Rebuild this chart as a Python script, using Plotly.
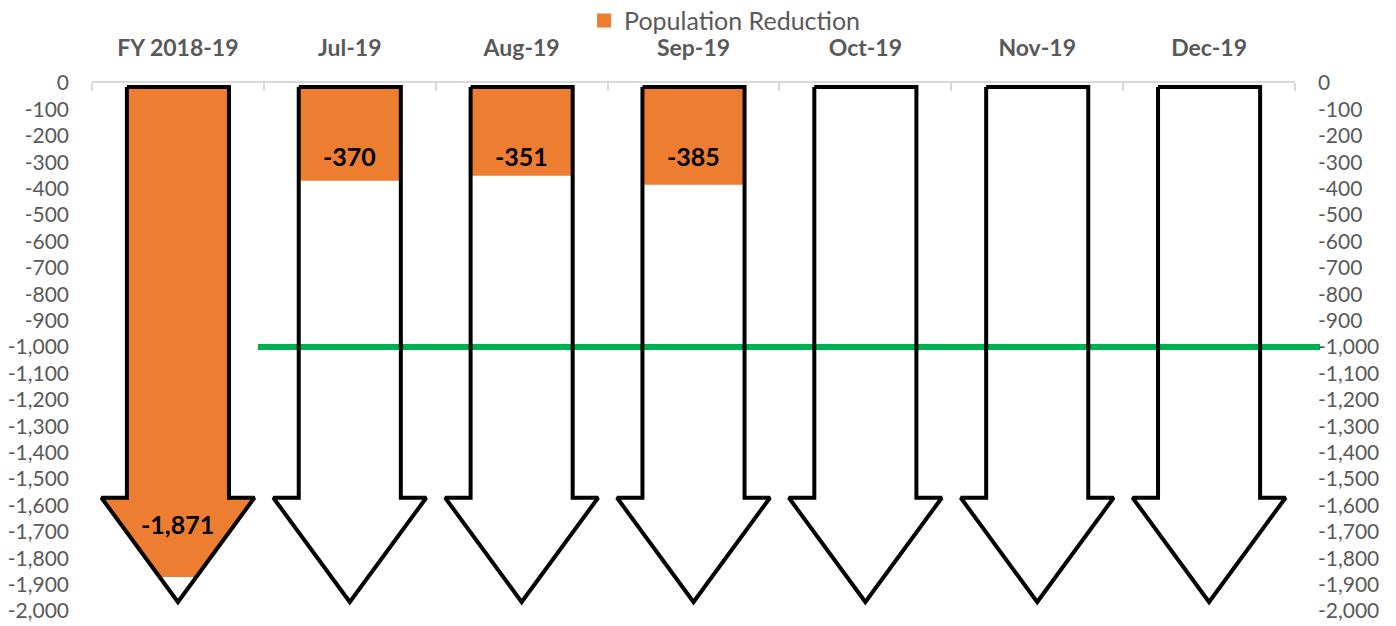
import plotly.graph_objects as go

# ---- data ----
CATEGORIES = ["FY 2018-19", "Jul-19", "Aug-19", "Sep-19", "Oct-19", "Nov-19", "Dec-19"]
REDUCTION = [-1871, -370, -351, -385, None, None, None]
SERIES_NAME = "Population Reduction"
TARGET = -1000
Y_TICKS = list(range(0, -2001, -100))

# ---- styling / geometry ----
ORANGE = "#ed7d31"
GREEN = "#00b050"
GREY = "#595959"
FONT = "Lato"
SHAFT_HALF = 0.297
HEAD_HALF = 0.445
ARROW_TOP = -15
HEAD_TOP = -1571
ARROW_TIP = -1966


def outline(cx):
    xs = [cx - SHAFT_HALF, cx + SHAFT_HALF, cx + SHAFT_HALF, cx + HEAD_HALF, cx,
          cx - HEAD_HALF, cx - SHAFT_HALF, cx - SHAFT_HALF]
    ys = [ARROW_TOP, ARROW_TOP, HEAD_TOP, HEAD_TOP, ARROW_TIP, HEAD_TOP, HEAD_TOP, ARROW_TOP]
    return xs, ys


def filled(cx, v):
    if v >= HEAD_TOP:
        xs = [cx - SHAFT_HALF, cx + SHAFT_HALF, cx + SHAFT_HALF, cx - SHAFT_HALF]
        ys = [ARROW_TOP, ARROW_TOP, v, v]
    else:
        hw = HEAD_HALF * (v - ARROW_TIP) / (HEAD_TOP - ARROW_TIP)
        xs = [cx - SHAFT_HALF, cx + SHAFT_HALF, cx + SHAFT_HALF, cx + HEAD_HALF,
              cx + hw, cx - hw, cx - HEAD_HALF, cx - SHAFT_HALF]
        ys = [ARROW_TOP, ARROW_TOP, HEAD_TOP, HEAD_TOP, v, v, HEAD_TOP, HEAD_TOP]
    return xs, ys


fig = go.Figure()

# orange fills
for i, v in enumerate(REDUCTION):
    if v is None:
        continue
    xs, ys = filled(i, v)
    fig.add_trace(go.Scatter(x=xs, y=ys, fill="toself", fillcolor=ORANGE, mode="lines",
                             line=dict(width=0, color=ORANGE), showlegend=False,
                             hoverinfo="skip"))

# arrow outlines
ox, oy = [], []
for i in range(len(CATEGORIES)):
    xs, ys = outline(i)
    ox += xs + [None]
    oy += ys + [None]
fig.add_trace(go.Scatter(x=ox, y=oy, mode="lines", line=dict(color="black", width=4),
                         showlegend=False, hoverinfo="skip"))

# legend entry
fig.add_trace(go.Scatter(x=[None], y=[None], mode="markers", name=SERIES_NAME,
                         marker=dict(symbol="square", size=14, color=ORANGE),
                         yaxis="y2"))

# data labels: shaft labels share one row, head label sits inside the head
shaft_vals = [v for v in REDUCTION if v is not None and v >= HEAD_TOP]
shaft_label_y = max(shaft_vals) if shaft_vals else 0
for i, v in enumerate(REDUCTION):
    if v is None:
        continue
    if v >= HEAD_TOP:
        ly, shift = shaft_label_y, 20
    else:
        ly, shift = v, 53
    fig.add_annotation(x=i, y=ly, text=f"{v:,}", showarrow=False, yshift=shift,
                       yanchor="middle", font=dict(family=FONT, size=25, color="black",
                                                   weight="bold"))

# target line
fig.add_shape(type="line", xref="paper", yref="y", x0=0.138, x1=1.0208, y0=TARGET, y1=TARGET,
              line=dict(color=GREEN, width=6), layer="below")

yaxis_common = dict(range=[-2000, 0], tickvals=Y_TICKS, ticktext=[f"{t:,}" for t in Y_TICKS],
                    showgrid=False, zeroline=False, showline=False, ticks="",
                    tickfont=dict(family=FONT, size=21, color=GREY), ticklabelstandoff=22,
                    ticklabeloverflow="allow")

fig.update_layout(
    width=1396, height=626,
    margin=dict(l=92, r=101, t=83, b=15, autoexpand=False),
    plot_bgcolor="white", paper_bgcolor="white",
    font=dict(family=FONT, color=GREY),
    xaxis=dict(range=[-0.5, len(CATEGORIES) - 0.5], side="top",
               tickvals=list(range(len(CATEGORIES))), ticktext=CATEGORIES,
               tickfont=dict(family=FONT, size=23, color=GREY, weight="bold"),
               ticks="", showgrid=False, zeroline=False,
               showline=True, linecolor="#d9d9d9", linewidth=1.5,
               ticklabelstandoff=16,
               minor=dict(ticks="inside", tick0=-0.5, dtick=1, ticklen=8,
                          tickcolor="#d9d9d9", tickwidth=1.5, showgrid=False)),
    yaxis=dict(**yaxis_common),
    yaxis2=dict(overlaying="y", side="right", **yaxis_common),
    legend=dict(orientation="h", x=0.409, xanchor="left", y=1.118, yanchor="middle",
                font=dict(family=FONT, size=25, color=GREY), bgcolor="rgba(0,0,0,0)"),
    showlegend=True,
)

fig.write_html("out.html", config={"displayModeBar": False},
               post_script="document.body.style.margin='0';document.body.style.overflow='hidden';")
